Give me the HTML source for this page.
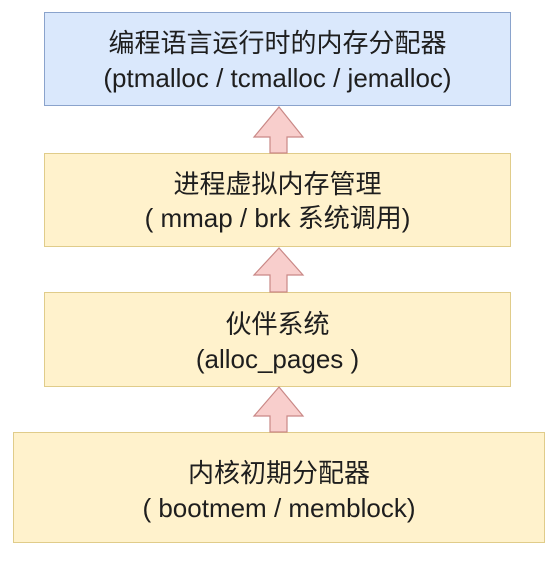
<!DOCTYPE html>
<html><head><meta charset="utf-8"><style>
body{margin:0;width:558px;height:566px;background:#fff;overflow:hidden;position:relative;font-family:"Liberation Sans","Noto Sans CJK SC",sans-serif;color:#1e1e1e}
.b{position:absolute;box-sizing:border-box;text-align:center;font-size:26px;line-height:34px}
.b div{position:absolute;left:0;right:0}
</style></head><body>
<div class="b" style="left:44px;top:12px;width:467px;height:94px;background:#dae8fc;border:1.5px solid #8aa3cc">
<div style="top:13px">编程语言运行时的内存分配器</div><div style="top:48px">(ptmalloc / tcmalloc / jemalloc)</div></div>
<div class="b" style="left:44px;top:153px;width:467px;height:94px;background:#fff2cc;border:1.5px solid #e0cc8a">
<div style="top:13px">进程虚拟内存管理</div><div style="top:47px">( mmap / brk 系统调用)</div></div>
<div class="b" style="left:44px;top:292px;width:467px;height:95px;background:#fff2cc;border:1.5px solid #e0cc8a">
<div style="top:14px">伙伴系统</div><div style="top:49px">(alloc_pages )</div></div>
<div class="b" style="left:13px;top:432px;width:532px;height:111px;background:#fff2cc;border:1.5px solid #e0cc8a">
<div style="top:23px">内核初期分配器</div><div style="top:58px">( bootmem / memblock)</div></div>
<svg width="558" height="566" style="position:absolute;left:0;top:0">
<g fill="#f8cecc" stroke="#c98886" stroke-width="1.2">
<polygon points="279,107 303,137 287,137 287,153 270,153 270,137 254,137"/>
<polygon points="279,248 303,275 287,275 287,292 270,292 270,275 254,275"/>
<polygon points="279,387 303,416 287,416 287,432 270,432 270,416 254,416"/>
</g>
</svg>
</body></html>
